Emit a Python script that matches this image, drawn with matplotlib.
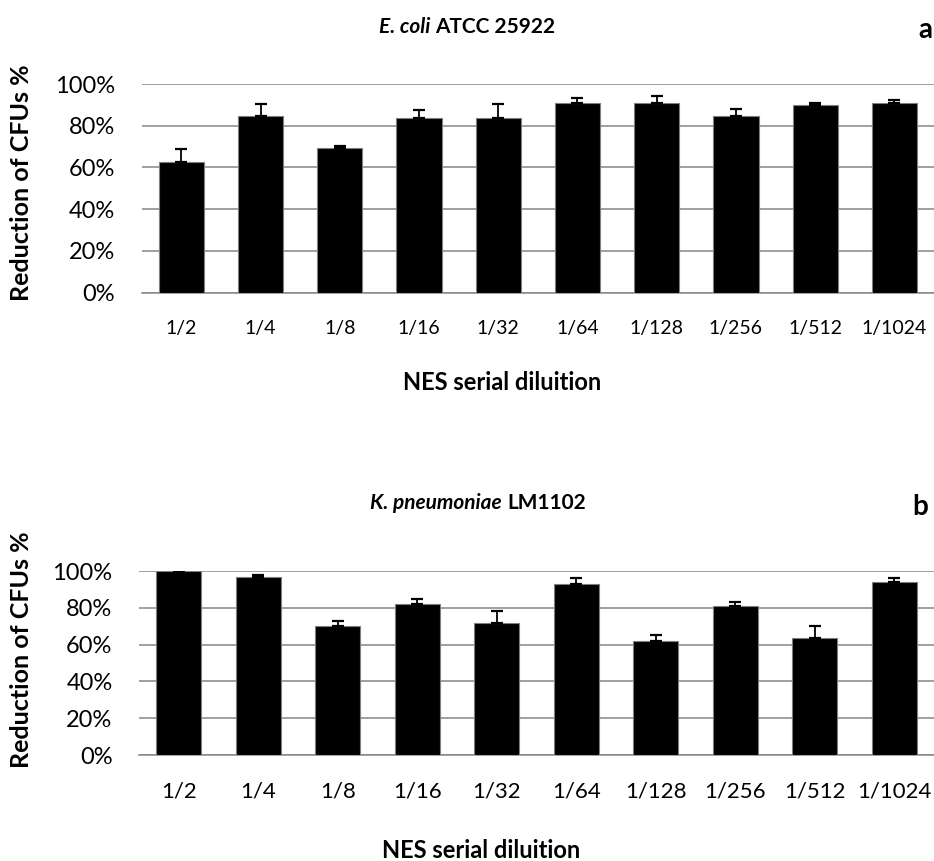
import matplotlib.pyplot as plt
import numpy as np

plt.rcParams['font.family'] = ['Lato', 'DejaVu Sans']

# dilutions and CFU reduction (%) with SD
dilutions = ['1/2', '1/4', '1/8', '1/16', '1/32', '1/64', '1/128', '1/256', '1/512', '1/1024']

ecoli_mean = [62.5, 84.8, 69.2, 83.6, 83.9, 91.0, 91.0, 84.8, 89.8, 91.0]
ecoli_sd = [6.2, 5.5, 1.1, 4.1, 6.4, 2.3, 3.3, 3.4, 1.2, 1.2]

kpneu_mean = [100.0, 96.7, 69.9, 81.9, 71.7, 92.9, 61.8, 80.8, 63.8, 93.8]
kpneu_sd = [0.0, 1.3, 3.1, 3.1, 6.3, 3.1, 3.3, 2.4, 6.2, 2.2]

W, H = 934, 861
fig = plt.figure(figsize=(W / 100, H / 100), dpi=100)


def px(x, y):
    # pixel coords (from top-left) -> figure fraction
    return x / W, 1 - y / H


def panel(rect, means, sds, xtick_size):
    ax = fig.add_axes(rect)
    x = np.arange(len(dilutions))
    ax.bar(x, means, width=0.57, color='black', edgecolor='#7f7f7f', linewidth=0.8, zorder=3)
    ax.errorbar(x, means, yerr=[np.zeros(len(sds)), sds], fmt='none', ecolor='black',
                elinewidth=1.3, capsize=4.5, capthick=1.6, zorder=4)
    ax.set_xlim(-0.5, len(dilutions) - 0.5)
    ax.set_ylim(0, 100)
    ax.set_yticks(np.arange(0, 101, 20))
    ax.set_yticklabels([f'{v}%' for v in range(0, 101, 20)], fontsize=17)
    ax.set_xticks(x)
    ax.set_xticklabels(dilutions, fontsize=xtick_size)
    ax.yaxis.grid(True, color='#868686', linewidth=1.1)
    ax.set_axisbelow(True)
    for s in ['top', 'right', 'left']:
        ax.spines[s].set_visible(False)
    ax.spines['bottom'].set_color('#868686')
    ax.spines['bottom'].set_linewidth(1.1)
    ax.tick_params(length=0)
    ax.tick_params(axis='y', pad=19)
    return ax


# panel a
ax1 = panel([141.7 / W, 1 - 292.7 / H, (934 - 141.7) / W, (292.7 - 84) / H],
            ecoli_mean, ecoli_sd, 14)
ax1.tick_params(axis='x', pad=20)

# panel b
ax2 = panel([139 / W, 1 - 755 / H, (934 - 139) / W, (755 - 571) / H],
            kpneu_mean, kpneu_sd, 16)
ax2.tick_params(axis='x', pad=19)

# titles (species name in italics)
fig.text(*px(430, 27), 'E. coli', fontsize=15, fontweight='bold', style='italic',
         ha='right', va='center')
fig.text(*px(435, 27), 'ATCC 25922', fontsize=15, fontweight='bold', ha='left', va='center')
fig.text(*px(925, 38), 'a', fontsize=20, fontweight='bold', ha='center', va='baseline')

fig.text(*px(502, 503), 'K. pneumoniae', fontsize=15, fontweight='bold', style='italic',
         ha='right', va='center')
fig.text(*px(507, 503), 'LM1102', fontsize=15, fontweight='bold', ha='left', va='center')
fig.text(*px(920, 515), 'b', fontsize=20, fontweight='bold', ha='center', va='baseline')

# axis labels
fig.text(*px(22, 183), 'Reduction of CFUs %', fontsize=18, fontweight='bold', rotation=90,
         ha='center', va='center')
fig.text(*px(22, 650), 'Reduction of CFUs %', fontsize=18, fontweight='bold', rotation=90,
         ha='center', va='center')

fig.text(*px(502, 382), 'NES serial diluition', fontsize=17, fontweight='bold',
         ha='center', va='center')
fig.text(*px(481, 850), 'NES serial diluition', fontsize=17, fontweight='bold',
         ha='center', va='center')

fig.savefig('out.png', dpi=100)
